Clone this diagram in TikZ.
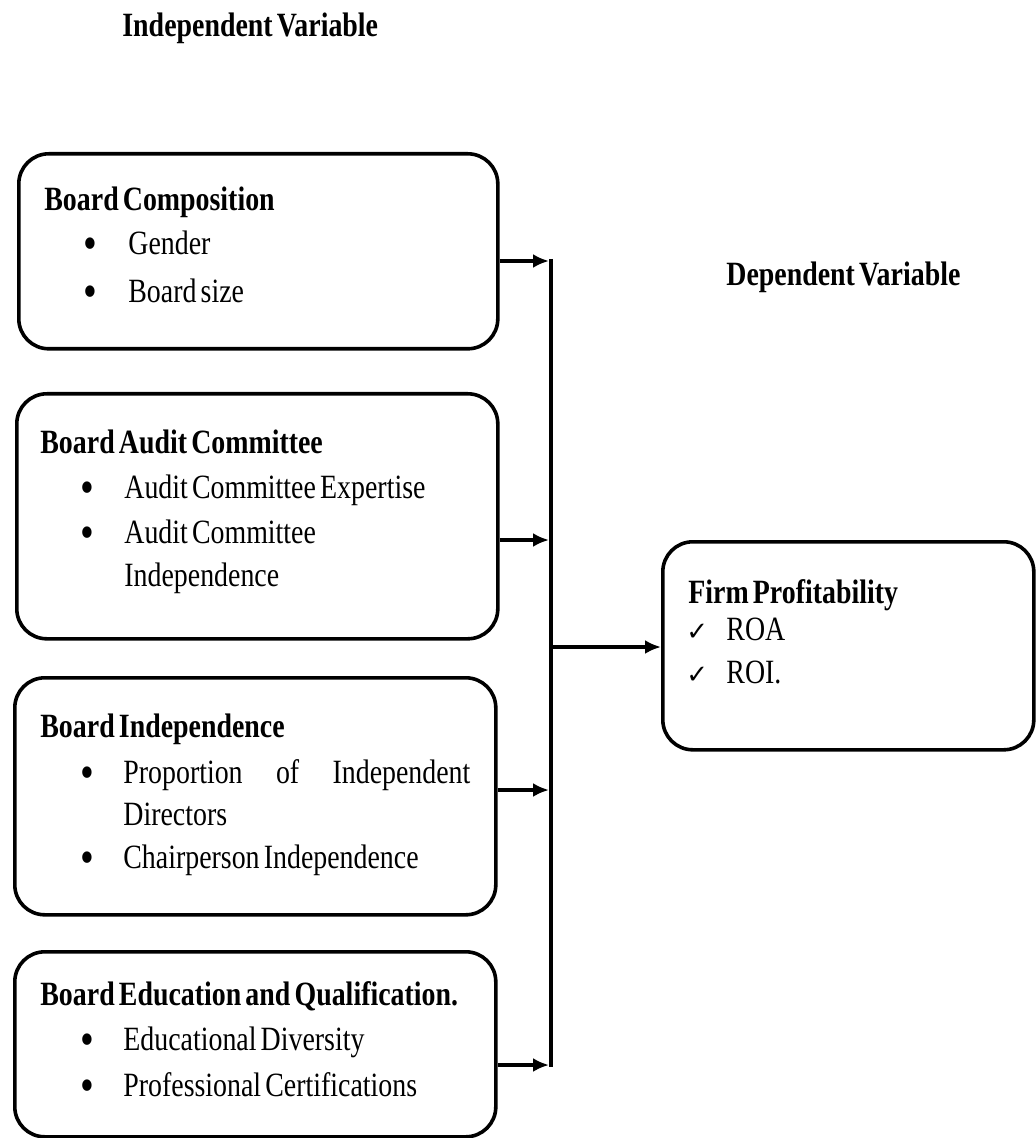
\documentclass[tikz,border=0pt]{standalone}
\usepackage{fontspec}
\setmainfont[FakeStretch=0.82, WordSpace=0.6]{Liberation Serif}
\newfontfamily\tickFont{DejaVu Sans}
\usetikzlibrary{positioning, arrows.meta}
\newcommand{\pxUnit}{0.5pt}
\tikzstyle{canvas} = [x = 0.5pt, y = -0.5pt]
\tikzstyle{frameStyle} = [draw=black, fill=white, line width=1.8pt, rounded corners=15pt, anchor=north west, inner sep=0pt]
\tikzstyle{headText} = [font=\fontsize{17pt}{20pt}\selectfont\bfseries, anchor=base west, inner sep=0pt]
\tikzstyle{itemText} = [font=\fontsize{17pt}{20pt}\selectfont, anchor=base west, inner sep=0pt]
\tikzstyle{dotText} = [font=\fontsize{24pt}{24pt}\selectfont, anchor=base, inner sep=0pt]
\tikzstyle{tickText} = [font=\fontsize{13pt}{14pt}\selectfont\tickFont, anchor=base west, inner sep=0pt]
\tikzstyle{busLine} = [line width=2pt]
\tikzstyle{feedArrow} = [line width=2pt, -{Latex[length=8pt, width=7pt]}]
\newcommand{\frameBox}[5]{\node [frameStyle, minimum width=#4*\pxUnit, minimum height=#5*\pxUnit] (#1) at (#2,#3) {};}
\newcommand{\headLine}[4]{\node [headText] (#1) at (#2,#3) {#4};}
\newcommand{\plainLine}[4]{\node [itemText] (#1) at (#2,#3) {#4};}
\newcommand{\bulletLine}[5]{
  \node [dotText] (#1Dot) at (#2,#4+5) {\textbullet};
  \node [itemText] (#1) at (#3,#4) {#5};
}
\newcommand{\tickLine}[3]{
  \node [tickText] (#1Tick) at (686,#2) {✓};
  \node [itemText] (#1) at (726,#2) {#3};
}

\begin{document}
\begin{tikzpicture}[canvas]
  \useasboundingbox (0,0) rectangle (1036,1138);

  % headings
  \headLine{indepHead}{122}{37}{Independent Variable}
  \headLine{depHead}{726}{286}{Dependent Variable}

  % left boxes
  \frameBox{compBox}{17}{152}{479}{195}
  \headLine{compTitle}{44}{211}{Board Composition}
  \bulletLine{gender}{90}{128}{255}{Gender}
  \bulletLine{boardSize}{90}{128}{303}{Board size}

  \frameBox{auditBox}{15}{392}{481}{245}
  \headLine{auditTitle}{40}{453}{Board Audit Committee}
  \bulletLine{auditExp}{87}{124}{498}{Audit Committee Expertise}
  \bulletLine{auditInd}{87}{124}{543}{Audit Committee}
  \plainLine{auditIndB}{124}{586}{Independence}

  \frameBox{indepBox}{13}{676}{481}{237}
  \headLine{indepTitle}{40}{737}{Board Independence}
  \bulletLine{propDir}{87}{123}{783}{\makebox[173.5pt][s]{Proportion\hfill of\hfill Independent}}
  \plainLine{propDirB}{123}{825}{Directors}
  \bulletLine{chairInd}{87}{123}{868}{Chairperson Independence}

  \frameBox{eduBox}{13}{950}{481}{185}
  \headLine{eduTitle}{40}{1005}{Board Education and Qualification.}
  \bulletLine{eduDiv}{87}{123}{1050}{Educational Diversity}
  \bulletLine{profCert}{87}{123}{1096}{Professional Certifications}

  % right box
  \frameBox{profitBox}{661}{540}{371}{208}
  \headLine{profitTitle}{688}{603}{Firm Profitability}
  \tickLine{roa}{640}{ROA}
  \tickLine{roi}{683}{ROI.}

  % connectors
  \coordinate (busTop) at (551,259);
  \coordinate (busBottom) at (551,1067);
  \coordinate (busOut) at (551,647);
  \coordinate (joinA) at (549,261);
  \coordinate (joinB) at (549,540);
  \coordinate (joinC) at (549,790);
  \coordinate (joinD) at (549,1065);
  \draw [busLine] (busTop) -- (busBottom);
  \draw [feedArrow] (compBox.east |- joinA) -- (joinA);
  \draw [feedArrow] (auditBox.east |- joinB) -- (joinB);
  \draw [feedArrow] (indepBox.east |- joinC) -- (joinC);
  \draw [feedArrow] (eduBox.east |- joinD) -- (joinD);
  \draw [feedArrow] (busOut) -- (profitBox.west |- busOut);
\end{tikzpicture}
\end{document}
